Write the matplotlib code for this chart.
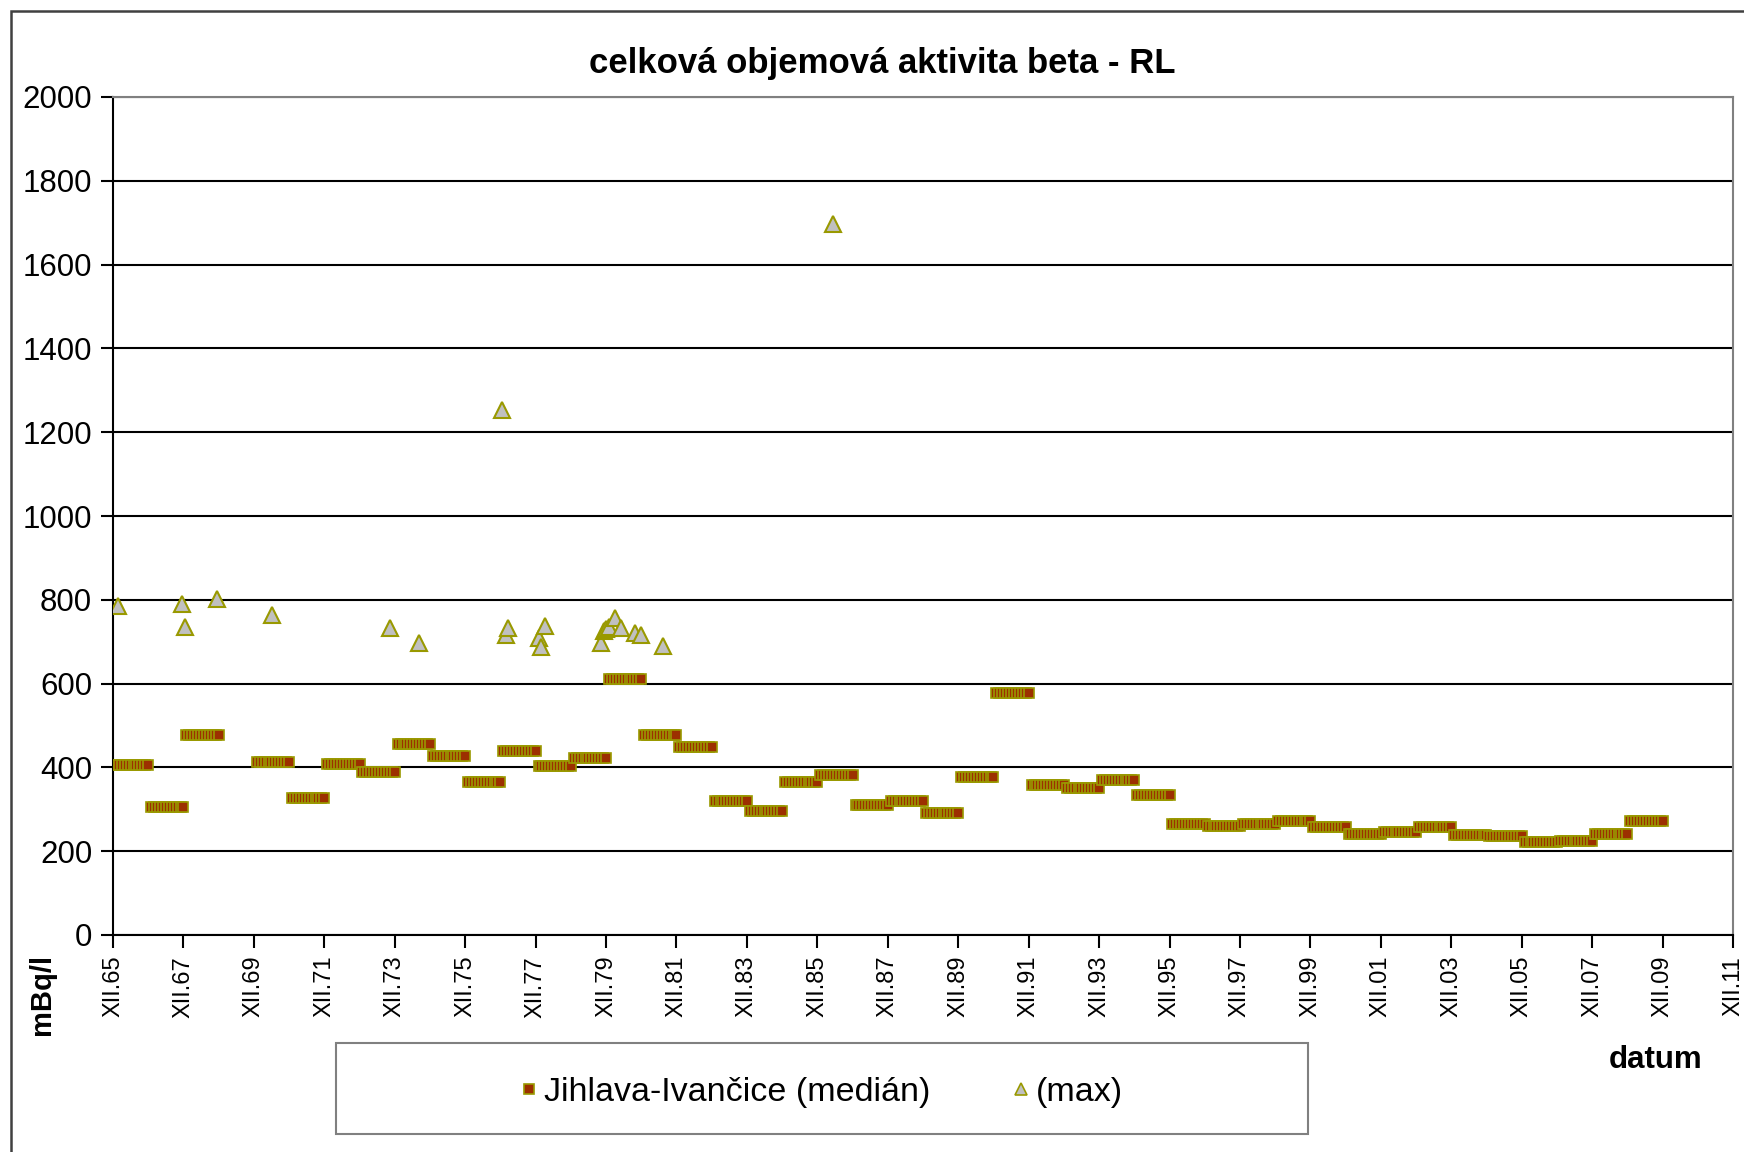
import numpy as np
import matplotlib.pyplot as plt
from matplotlib.patches import Rectangle

plt.rcParams['font.family'] = ['Liberation Sans', 'DejaVu Sans']

# roční mediány (rok -> mBq/l), rok 1969 chybí
roky = [1966, 1967, 1968, 1970, 1971, 1972, 1973, 1974, 1975, 1976, 1977, 1978,
        1979, 1980, 1981, 1982, 1983, 1984, 1985, 1986, 1987, 1988, 1989, 1990,
        1991, 1992, 1993, 1994, 1995, 1996, 1997, 1998, 1999, 2000, 2001, 2002,
        2003, 2004, 2005, 2006, 2007, 2008, 2009]
median = [406, 305, 478, 412, 327, 407, 388, 456, 428, 364, 439, 404,
          422, 610, 478, 449, 321, 296, 364, 383, 311, 319, 292, 377,
          577, 358, 350, 369, 334, 265, 260, 265, 273, 257, 242, 245,
          257, 239, 236, 221, 225, 242, 273]

# maxima (datum v letech, hodnota)
max_datum = [1966.06, 1967.88, 1967.96, 1968.87, 1970.43, 1973.78, 1974.60,
             1976.97, 1977.08, 1977.12, 1978.00, 1978.08, 1978.18,
             1979.77, 1979.85, 1979.92, 1980.00, 1980.17, 1980.33,
             1980.75, 1980.92, 1981.53, 1986.36]
max_hodnota = [786, 790, 735, 802, 764, 733, 697,
               1253, 716, 733, 708, 687, 737,
               697, 725, 730, 735, 757, 733,
               721, 716, 690, 1696]

tick_roky = list(range(1965, 2012, 2))
tick_popisky = ['XII.%02d' % (r % 100) for r in tick_roky]

fig = plt.figure(figsize=(17.44, 11.52), dpi=100)
ax = fig.add_axes([113 / 1744, 1 - 935 / 1152, 1620 / 1744, 838 / 1152])

# median kreslen jako 12 měsíčních bodů v daném roce
for r, m in zip(roky, median):
    mx = r + np.arange(12) / 12
    ax.plot(mx, [m] * 12, linestyle='none', marker='s', markersize=7.8,
            markerfacecolor='#9C3000', markeredgecolor='#999900',
            markeredgewidth=1.2, zorder=3)

ax.plot(max_datum, max_hodnota, linestyle='none', marker='^', markersize=11,
        markerfacecolor='#C0C0C0', markeredgecolor='#999900',
        markeredgewidth=1.5, zorder=4)

ax.set_xlim(1965 + 11 / 12, 2011 + 11 / 12)
ax.set_ylim(0, 2000)
ax.set_yticks(range(0, 2001, 200))
ax.set_xticks([r + 11 / 12 for r in tick_roky])
ax.set_xticklabels(tick_popisky, rotation=90, fontsize=17)
ax.tick_params(axis='y', labelsize=22.5, length=9, width=1.5, pad=6)
ax.tick_params(axis='x', length=9, width=1.5, pad=6)
ax.yaxis.grid(True, color='black', linewidth=1.5)
ax.set_axisbelow(True)
for s in ['left', 'bottom']:
    ax.spines[s].set_color('black')
    ax.spines[s].set_linewidth(1.5)
for s in ['top', 'right']:
    ax.spines[s].set_color('#808080')
    ax.spines[s].set_linewidth(1.5)

fig.text(882 / 1744, 1 - 63 / 1152, 'celková objemová aktivita beta - RL',
         ha='center', va='center', fontsize=25, fontweight='bold')
fig.text(42 / 1744, 1 - 994 / 1152, 'mBq/l', rotation=90, ha='center',
         va='center', fontsize=21, fontweight='bold')
fig.text(1656 / 1744, 1 - 1060 / 1152, 'datum', ha='center', va='center',
         fontsize=22.5, fontweight='bold')

# legenda
fig.patches.append(Rectangle((336 / 1744, 1 - 1134 / 1152), 972 / 1744, 91 / 1152,
                             transform=fig.transFigure, fill=False,
                             edgecolor='#808080', linewidth=1.5))
h1, = ax.plot([], [], linestyle='none', marker='s', markersize=7,
              markerfacecolor='#9C3000', markeredgecolor='#999900', markeredgewidth=1.2)
h2, = ax.plot([], [], linestyle='none', marker='^', markersize=8,
              markerfacecolor='#C0C0C0', markeredgecolor='#999900', markeredgewidth=1.2)
fig.legend([h1, h2], ['Jihlava-Ivančice (medián)', '(max)'], ncol=2,
           loc='center', bbox_to_anchor=(822 / 1744, 1 - 1092 / 1152),
           frameon=False, fontsize=24.5, handlelength=0.5, handletextpad=0.2,
           columnspacing=2.4)

# rámeček grafu
fig.patches.append(Rectangle((11 / 1744, -0.01), 1.0, 1 - 11 / 1152 + 0.01,
                             transform=fig.transFigure, fill=False,
                             edgecolor='#404040', linewidth=1.8))

fig.savefig('out.png', dpi=100)
